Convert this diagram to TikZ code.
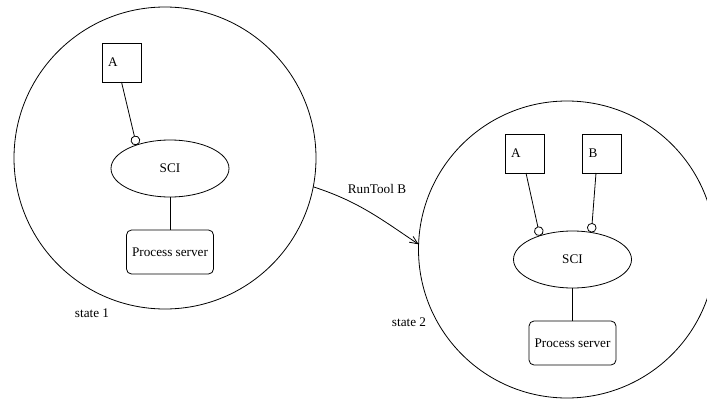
\documentclass[tikz,border=0pt]{standalone}
\usepackage{fontspec}
\setmainfont{Liberation Serif}
\usetikzlibrary{positioning,shapes.geometric,arrows.meta}

\begin{document}
\begin{tikzpicture}[x=1pt,y=1pt,line width=0.8pt,
				every node/.style={font=\fontsize{13.2}{15}\selectfont,outer sep=0pt},
				state/.style={draw,circle,inner sep=0pt},
				tool/.style={draw,rectangle,minimum size=39pt,text width=27pt,inner sep=6pt,align=left},
				sci/.style={draw,ellipse,minimum width=118pt,minimum height=57pt,inner sep=0pt},
				server/.style={draw,rectangle,rounded corners=5pt,minimum width=87pt,minimum height=44pt,inner sep=0pt},
				lolly/.style={-{Circle[open,length=9.5pt,width=9.5pt]}}]
				\useasboundingbox (0,0) rectangle (707,400);
				% state 1
				\node[state,minimum size=302pt] (C1) at (165,242) {};
				\node[tool]                   (A1) at (121.5,337.5) {A\\[-3pt]};
				\node[sci]                    (S1) at (170,231.5) {SCI};
				\node[server,below=33pt of S1] (P1) {Process server};
				\node                         (L1) at (92,87) {state 1};
				% state 2
				\node[state,minimum size=297pt] (C2) at (567,150.5) {};
				\node[tool]                   (A2) at (524.5,246.5) {A\\[-3pt]};
				\node[tool]                   (B2) at (602,246.5) {B\\[-3pt]};
				\node[sci]                    (S2) at (572.5,140.5) {SCI};
				\node[server,below=33pt of S2] (P2) {Process server};
				\node                         (L2) at (409,78) {state 2};
				\node                         (T)  at (377,211) {RunTool B};

				\draw[lolly] (A1.south) -- (S1.145);
				\draw (S1) -- (P1);
				\draw[lolly] ([xshift=1.5pt]A2.south) -- (S2.144);
				\draw[lolly] ([xshift=-6pt]B2.south) -- (S2.55);
				\draw (S2) -- (P2);
				\draw[-{Straight Barb[length=8pt,width=7pt]}] (C1.-11) to[out=-18,in=146] (C2.178);
			\end{tikzpicture}
\end{document}
